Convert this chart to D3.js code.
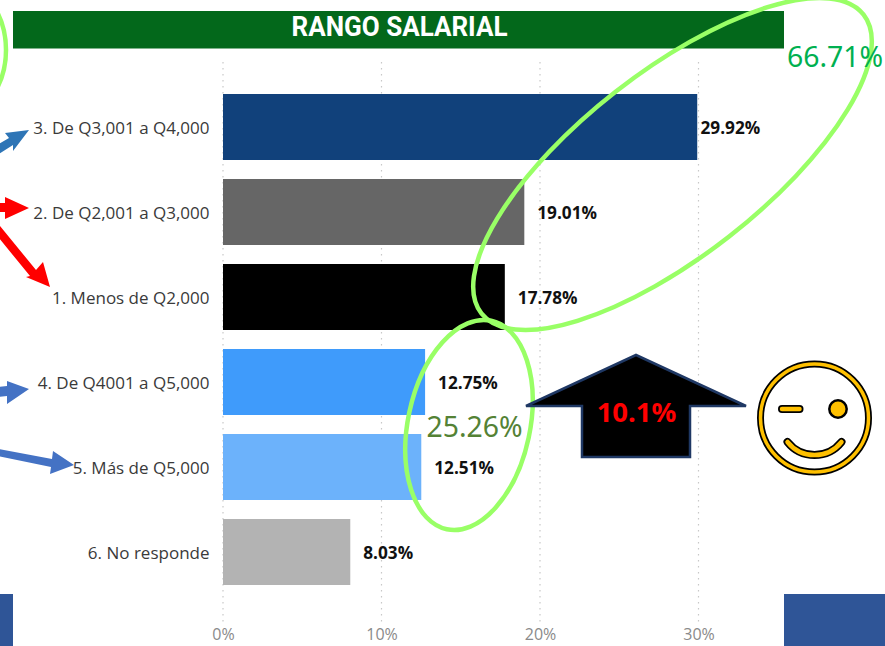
<!DOCTYPE html>
<html><head><meta charset="utf-8">
<script src="https://cdn.jsdelivr.net/npm/d3@7"></script>
<style>
html,body{margin:0;padding:0;background:#fff}
svg{display:block}
text{font-family:"Open Sans","Noto Sans",sans-serif}
</style></head><body><svg id="c" width="885" height="646"></svg>
<script>
const categories=["3. De Q3,001 a Q4,000","2. De Q2,001 a Q3,000","1. Menos de Q2,000","4. De Q4001 a Q5,000","5. Más de Q5,000","6. No responde"];
const values=[29.92,19.01,17.78,12.75,12.51,8.03];
const barColors=["#11417b","#666666","#000000","#3f9bfb","#6cb2fb","#b3b3b3"];
const xTicks=[0,10,20,30];
const chartTitle="RANGO SALARIAL";
const groupLabels=["66.71%","25.26%"];
const changeLabel="10.1%";

const svg=d3.select("#c");
const x=d3.scaleLinear().domain([0,30]).range([223,698.5]);
const y=d3.scaleBand().domain(categories).range([84.5,594.5]).paddingInner(19/85).paddingOuter(9.5/85);

// bottom decorative blocks + header
svg.append("rect").attr("x",0).attr("y",594).attr("width",13).attr("height",52).attr("fill","#2f5597");
svg.append("rect").attr("x",784).attr("y",594).attr("width",101).attr("height",52).attr("fill","#2f5597");
svg.append("rect").attr("x",13).attr("y",11).attr("width",771).attr("height",37.5).attr("fill","#03681b");
svg.append("text").attr("x",399.5).attr("y",35.5).attr("text-anchor","middle")
  .attr("fill","#fff").attr("font-size",28).attr("font-weight",700)
  .attr("textLength",216).attr("lengthAdjust","spacingAndGlyphs")
  .style("font-family","Roboto").text(chartTitle);

// x axis with dotted grid
const gx=svg.append("g").attr("transform","translate(0,610)")
  .call(d3.axisBottom(x).tickValues(xTicks).tickFormat(d=>d+"%").tickSize(0).tickPadding(19));
gx.select(".domain").remove();
gx.selectAll("text").attr("fill","#8a8a8a").attr("font-size",16);
svg.append("g").selectAll("line").data(xTicks).join("line")
  .attr("x1",d=>x(d)).attr("x2",d=>x(d)).attr("y1",62).attr("y2",622)
  .attr("stroke","#c8c8c8").attr("stroke-width",1.2).attr("stroke-dasharray","1.5 4.5");

// bars
svg.append("g").selectAll("rect").data(values).join("rect")
  .attr("x",x(0)).attr("y",(d,i)=>y(categories[i]))
  .attr("width",d=>x(d)-x(0)).attr("height",y.bandwidth())
  .attr("fill",(d,i)=>barColors[i]);

// category axis
const gy=svg.append("g").attr("transform","translate(209.5,1.5)")
  .call(d3.axisLeft(y).tickSize(0).tickPadding(0));
gy.select(".domain").remove();
gy.selectAll("text").attr("fill","#3a3a3a").attr("font-size",17);

// value labels
svg.append("g").selectAll("text").data(values).join("text")
  .attr("x",d=>Math.min(x(d)+13,700.5))
  .attr("y",(d,i)=>y(categories[i])+y.bandwidth()/2+1).attr("dy","0.35em")
  .attr("fill","#111").attr("font-size",17.2).attr("font-weight",700)
  .text(d=>d.toFixed(2)+"%");

// annotation ellipses
const ring=(cx,cy,rx,ry,rot)=>svg.append("ellipse")
  .attr("transform",`translate(${cx},${cy}) rotate(${rot})`)
  .attr("rx",rx).attr("ry",ry).attr("fill","none").attr("stroke","#99ff66").attr("stroke-width",4.5);
ring(672.5,164,242.5,92,-38);
ring(469,425,61,106.6,12);
ring(-60,50,66,75,0);

// annotation group labels
svg.append("text").attr("x",835).attr("y",67).attr("text-anchor","middle").attr("fill","#00b050").attr("font-size",28.4).style("font-family","Noto Sans").text(groupLabels[0]);
svg.append("text").attr("x",474.5).attr("y",437).attr("text-anchor","middle").attr("fill","#548235").attr("font-size",28.4).style("font-family","Noto Sans").text(groupLabels[1]);

// block arrows
const poly=(pts,fill)=>svg.append("polygon").attr("points",pts.map(p=>p.join(",")).join(" ")).attr("fill",fill);
poly([[29,130],[5,133],[9,138],[-5,146],[-1,154],[13,145],[13,151]],"#2e75b6");
poly([[29,208],[5,197],[5,203],[-2,203],[-2,212],[5,212],[5,219]],"#ff0000");
poly([[50,287],[43,262],[36,270],[0,226],[-6,232],[30,276],[26,277]],"#ff0000");
poly([[29,389],[7,381],[7,386],[-2,387],[-2,397],[7,396],[7,404]],"#4472c4");
poly([[74,465],[53,451],[52,459],[-2,449],[-2,456],[51,467],[50,474]],"#4472c4");

// up arrow
svg.append("polygon").attr("points",[[636,355],[746,406],[690,406],[690,457],[582,457],[582,406],[526,406]].map(p=>p.join(",")).join(" "))
  .attr("fill","#000").attr("stroke","#1f3864").attr("stroke-width",2.5);
svg.append("text").attr("x",636.5).attr("y",422).attr("text-anchor","middle").attr("fill","#ff0000").attr("font-size",27.5).attr("font-weight",700).style("font-family","Noto Sans").text(changeLabel);

// smiley
const s=svg.append("g").attr("transform","translate(814.5,418)");
s.append("circle").attr("r",54).attr("fill","#fff").attr("stroke","#000").attr("stroke-width",7);
s.append("circle").attr("r",54).attr("fill","none").attr("stroke","#ffc000").attr("stroke-width",3.5);
const wink="M-32.5,-9 H-15";
const smile="M-27,24 A34.5,34.5 0 0 0 27,24";
[wink,smile].forEach(d=>{
  s.append("path").attr("d",d).attr("fill","none").attr("stroke","#000").attr("stroke-width",8).attr("stroke-linecap","round");
  s.append("path").attr("d",d).attr("fill","none").attr("stroke","#ffc000").attr("stroke-width",4.5).attr("stroke-linecap","round");
});
s.append("circle").attr("cx",23.5).attr("cy",-9).attr("r",8.7).attr("fill","#ffc000").attr("stroke","#000").attr("stroke-width",2.5);
</script></body></html>
